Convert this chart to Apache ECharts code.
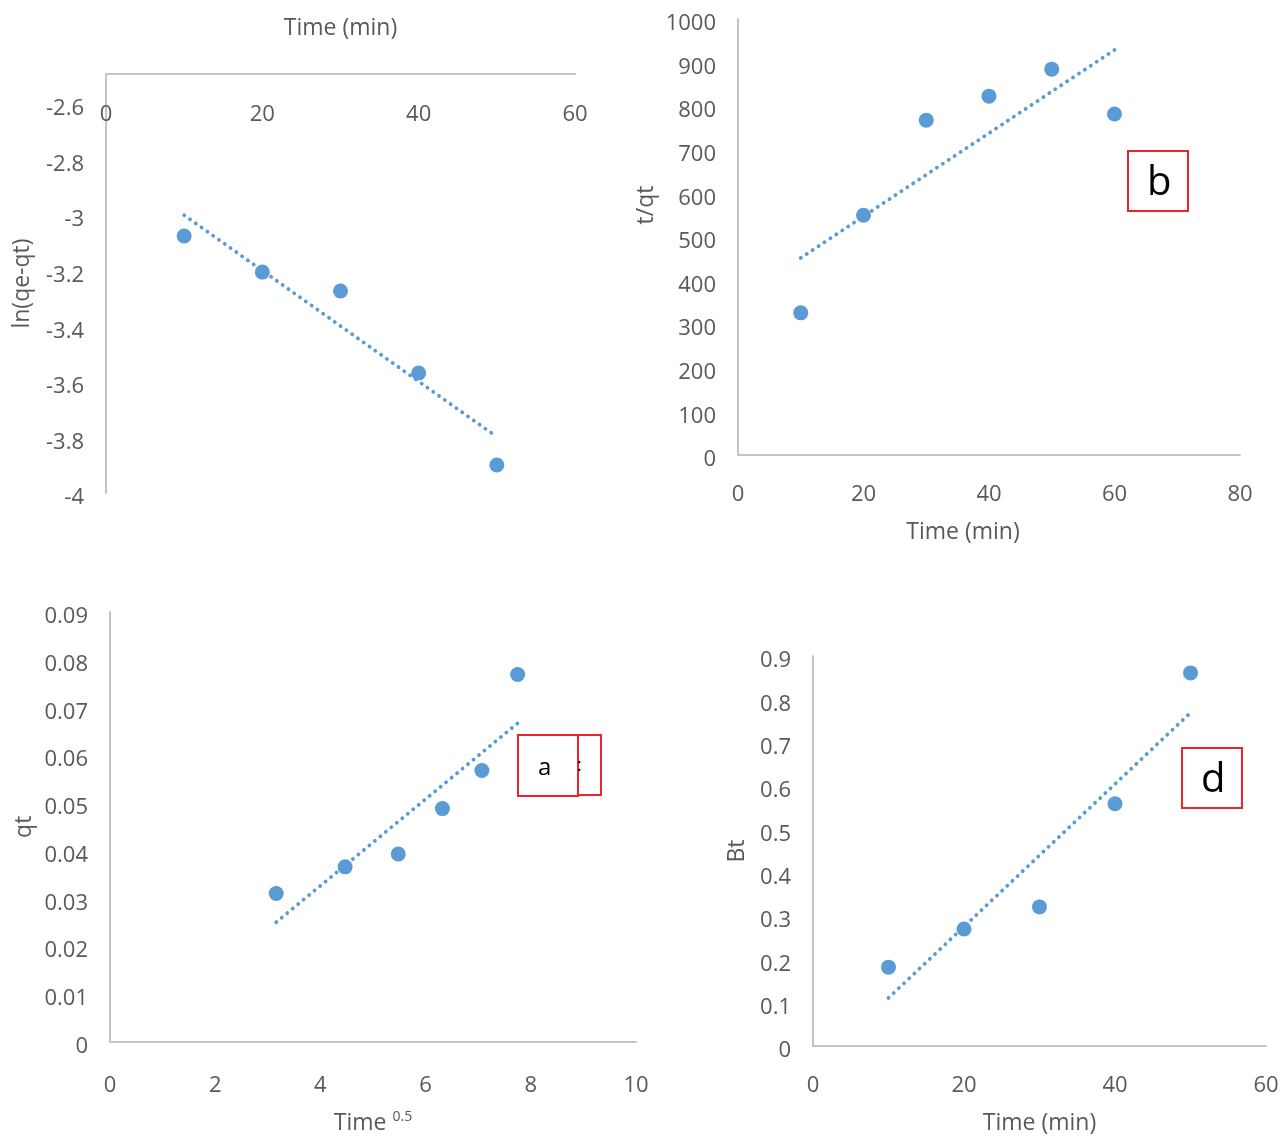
<!DOCTYPE html>
<html>
<head>
    <meta charset="utf-8" />
    <title>Kinetic plots</title>
    <script src="https://cdnjs.cloudflare.com/ajax/libs/echarts/6.0.0/echarts.min.js"></script>
    <style>
        body, html {
            margin: 0;
            padding: 0;
            background: #fff;
        }
        #chart {
            width: 1282px;
            height: 1136px;
        }
    </style>
</head>
<body>
<div id="chart"></div>
<script type="text/javascript">
    // top-left: pseudo first order
    var timeA = [10, 20, 30, 40, 50];
    var lnQeQt = [-3.075, -3.205, -3.273, -3.568, -3.899];
    var trendAx = [10, 50];
    var trendAy = [-3.0, -3.798];

    // top-right: pseudo second order (panel b)
    var timeB = [10, 20, 30, 40, 50, 60];
    var tOverQt = [326, 550, 768, 823, 885, 782];
    var trendBx = [10, 60];
    var trendBy = [452, 929];

    // bottom-left: intraparticle diffusion (panel a)
    var sqrtTime = [3.16, 4.47, 5.48, 6.32, 7.07, 7.75];
    var qt = [0.0310, 0.0366, 0.0393, 0.0488, 0.0568, 0.0769];
    var trendCx = [3.16, 7.75];
    var trendCy = [0.0250, 0.0667];

    // bottom-right: Boyd plot (panel d)
    var timeD = [10, 20, 30, 40, 50];
    var bt = [0.182, 0.270, 0.321, 0.559, 0.861];
    var trendDx = [10, 50];
    var trendDy = [0.111, 0.769];

    // axis ranges: [min, max, interval]
    var xRangeA = [0, 60, 20], yRangeA = [-4, -2.492, 0.2];
    var xRangeB = [0, 80, 20], yRangeB = [0, 1000, 100];
    var xRangeC = [0, 10, 2], yRangeC = [0, 0.09, 0.01];
    var xRangeD = [0, 60, 20], yRangeD = [0, 0.9, 0.1];

    var blue = '#5B9BD5';
    var grey = '#595959';
    var font = 'Open Sans';

    function pairs(xs, ys) {
        return xs.map(function (x, i) { return [x, ys[i]]; });
    }

    function baseAxis(range, extra) {
        var ax = {
            type: 'value',
            min: range[0],
            max: range[1],
            interval: range[2],
            splitLine: { show: false },
            axisTick: { show: false },
            axisLine: { show: true, onZero: false, lineStyle: { color: '#c4c4c4', width: 2 } },
            axisLabel: { color: grey, fontSize: 22, fontFamily: font },
            nameLocation: 'middle',
            nameTextStyle: { color: grey, fontSize: 23, fontFamily: font }
        };
        for (var k in extra) {
            if (typeof extra[k] === 'object' && ax[k] && !Array.isArray(extra[k])) {
                ax[k] = Object.assign({}, ax[k], extra[k]);
            } else {
                ax[k] = extra[k];
            }
        }
        return ax;
    }

    function scatter(idx, data) {
        return {
            type: 'scatter',
            xAxisIndex: idx,
            yAxisIndex: idx,
            data: data,
            symbolSize: 15,
            itemStyle: { color: blue, opacity: 1 },
            z: 3
        };
    }

    function trend(idx, data) {
        return {
            type: 'line',
            xAxisIndex: idx,
            yAxisIndex: idx,
            data: data,
            symbol: 'none',
            lineStyle: { color: blue, width: 3.8, type: [0.1, 7], cap: 'round' },
            z: 2
        };
    }

    var chart = echarts.init(document.getElementById('chart'));

    // Excel draws the value labels a few px below the tick position
    var yLab = { margin: 22, verticalAlign: 'top', lineHeight: 10 };

    var option = {
        animation: false,
        grid: [
            { left: 106, top: 74, width: 469, height: 419 },
            { left: 738, top: 19, width: 502, height: 436 },
            { left: 110, top: 612, width: 526, height: 436 },
            { left: 813, top: 656, width: 453, height: 390 }
        ],
        xAxis: [
            baseAxis(xRangeA, {
                gridIndex: 0, position: 'top', name: 'Time (min)', nameGap: 34,
                axisLabel: { inside: true, margin: 30 }
            }),
            baseAxis(xRangeB, {
                gridIndex: 1, name: 'Time (min)', nameGap: 66, axisLabel: { margin: 29 },
                nameTextStyle: { padding: [0, 52, 0, 0] }
            }),
            baseAxis(xRangeC, {
                gridIndex: 2, name: '{t|Time }{s|0.5}', nameGap: 69, axisLabel: { margin: 33 },
                nameTextStyle: {
                    rich: {
                        t: { color: grey, fontSize: 23, fontFamily: font },
                        s: { color: grey, fontSize: 14, fontFamily: font, padding: [0, 0, 12, 0] }
                    }
                }
            }),
            baseAxis(xRangeD, { gridIndex: 3, name: 'Time (min)', nameGap: 66, axisLabel: { margin: 29 } })
        ],
        yAxis: [
            baseAxis(yRangeA, {
                gridIndex: 0, name: 'ln(qe-qt)', nameGap: 72,
                axisLabel: Object.assign({}, yLab, {
                    formatter: function (v) {
                        var k = Math.round((v + 4) / 0.2);
                        if (Math.abs((v + 4) / 0.2 - k) > 0.01) return '';
                        return String(Math.round(v * 10) / 10);
                    }
                })
            }),
            baseAxis(yRangeB, {
                gridIndex: 1, name: 't/qt', nameGap: 80,
                nameTextStyle: { padding: [0, 0, 0, 64] },
                axisLabel: Object.assign({}, yLab, { formatter: function (v) { return String(v); } })
            }),
            baseAxis(yRangeC, { gridIndex: 2, name: 'qt', nameGap: 74, axisLabel: yLab }),
            baseAxis(yRangeD, { gridIndex: 3, name: 'Bt', nameGap: 64, axisLabel: yLab })
        ],
        series: [
            trend(0, pairs(trendAx, trendAy)),
            scatter(0, pairs(timeA, lnQeQt)),
            trend(1, pairs(trendBx, trendBy)),
            scatter(1, pairs(timeB, tOverQt)),
            trend(2, pairs(trendCx, trendCy)),
            scatter(2, pairs(sqrtTime, qt)),
            trend(3, pairs(trendDx, trendDy)),
            scatter(3, pairs(timeD, bt))
        ],
        graphic: [
            // panel label b
            {
                type: 'rect', left: 1127, top: 150,
                shape: { width: 60, height: 60 },
                style: { fill: '#fff', stroke: '#e8262b', lineWidth: 2 }
            },
            {
                type: 'text', left: 1147, top: 164,
                style: { text: 'b', fill: '#000', font: '40px "Open Sans"' }
            },
            // panel label c (hidden behind a)
            {
                type: 'rect', left: 540, top: 734,
                shape: { width: 60, height: 60 },
                style: { fill: '#fff', stroke: '#e8262b', lineWidth: 2 }
            },
            // panel label a
            {
                type: 'rect', left: 517, top: 734,
                shape: { width: 60, height: 61 },
                style: { fill: '#fff', stroke: '#e8262b', lineWidth: 2 }
            },
            {
                type: 'text', left: 538, top: 756,
                style: { text: 'a', fill: '#000', font: '24px "Open Sans"' }
            },
            {
                type: 'text', left: 577, top: 757,
                style: { text: ':', fill: '#000', font: '18px "Open Sans"' }
            },
            // panel label d
            {
                type: 'rect', left: 1181, top: 747,
                shape: { width: 60, height: 60 },
                style: { fill: '#fff', stroke: '#e8262b', lineWidth: 2 }
            },
            {
                type: 'text', left: 1201, top: 761,
                style: { text: 'd', fill: '#000', font: '40px "Open Sans"' }
            }
        ]
    };

    chart.setOption(option);
</script>
</body>
</html>
